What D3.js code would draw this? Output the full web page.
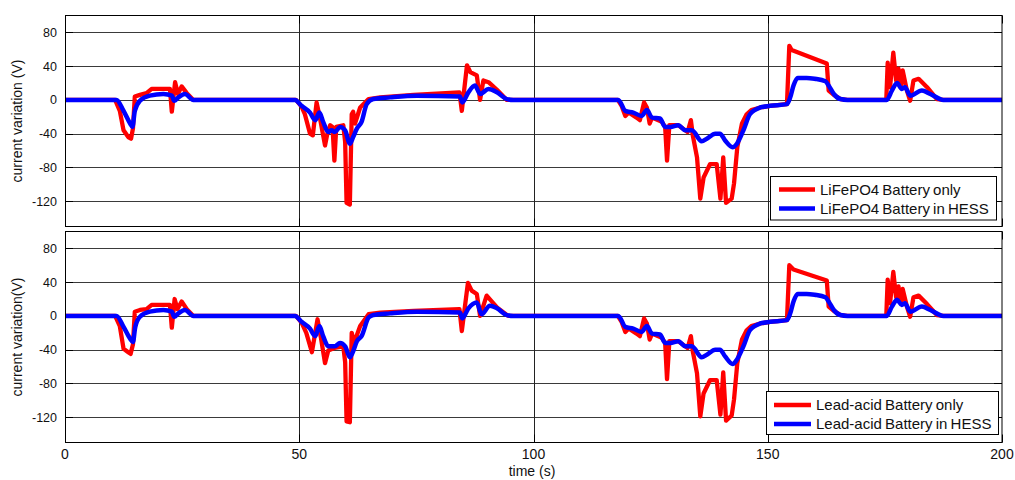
<!DOCTYPE html>
<html>
<head>
<meta charset="utf-8">
<script src="https://cdn.jsdelivr.net/npm/d3@7"></script>
<style>
  html, body { margin: 0; padding: 0; background: #fff; }
  svg { display: block; font-family: "Liberation Sans", Arial, sans-serif; }
</style>
</head>
<body>
<svg id="chart" width="1015" height="480"></svg>
<script>
// Axis ticks
const timeTicks = [0, 50, 100, 150, 200];
const currentTicks = [-120, -80, -40, 0, 40, 80];

// LiFePO4 battery, [time (s), current variation]
const liOnly = [
  [0,0],[10.7,0],[11.7,-13],[12.5,-36],[13.5,-44],[14.1,-46],[14.5,-34],[14.9,4],[16,6],[17.4,8],[18.5,13],
  [22.4,13],[22.8,-14],[23.5,21],[24.1,7],[24.9,16],[26,8],[27.4,0],
  [49.3,0],[50.5,-8],[51.2,-17],[52.3,-40],[52.9,-42],[53.7,-3],[54.4,-21],[55.5,-54],[56,-40],[56.6,-30],
  [57.1,-32],[57.5,-72],[57.9,-32],[59.4,-30],[59.8,-50],[60.1,-122],[60.8,-124],[61.2,-17],[61.5,-14],
  [61.9,-28],[63,-9],[64.8,1],[67.3,3],[74.4,6],[84.2,9],[84.7,-13],[85.8,41],[86.5,33],[87.9,29],[88.6,0],
  [89.3,23],[90.4,21],[92.2,12],[94.3,0],
  [118,0],[118.8,-7],[119.6,-19],[120.3,-15],[122,-21],[122.7,-24],[123.6,-3],[124.2,-9],[124.8,-28],
  [125.3,-21],[127.4,-26],[128.1,-32],[128.5,-72],[129,-30],[130.9,-30],[132.9,-38],[133.6,-24],[134,-42],
  [134.9,-68],[135.6,-117],[136.3,-92],[137.7,-76],[139.1,-76],[139.9,-117],[140.5,-68],[141.1,-122],
  [142.3,-117],[142.8,-99],[143.5,-56],[144.5,-28],[145.5,-17],[146.5,-12],[148.4,-9],[150.5,-7],[154.1,-5],
  [154.6,64],[155.1,59],[162.6,43],[163,11],[164.1,6],[165.5,1],[167,0],
  [175.3,0],[175.6,44],[176.1,15],[176.8,56],[177.4,23],[177.9,37],[178.4,15],[178.8,35],[179.7,11],
  [180.4,-1],[181.1,23],[182.2,25],[184,15],[186.1,1],[187.5,0],[200,0]
];
const liHess = [
  [0,0],[11,0],[12.5,-13],[13.9,-28],[14.4,-32],[14.9,-13],[16,-1],[18.1,5],[21,7],[22.8,5],[23.3,-1],
  [24.2,3],[25.6,7],[27.4,0],
  [49.1,0],[50.5,-7],[52.3,-15],[53.4,-24],[54.3,-15],[55.1,-26],[56.2,-38],[56.9,-36],[57.6,-38],[58.7,-32],
  [59.8,-36],[60.8,-52],[61.5,-44],[62.3,-34],[63.3,-26],[64.4,-5],[65.8,1],[69.4,3],[75.1,5],[84.3,4],
  [84.8,-3],[86.1,9],[87.5,17],[88.6,7],[90.4,13],[92.2,9],[94.3,1],[95.7,0],
  [118.1,0],[119.6,-13],[121.3,-15],[123.1,-19],[124.2,-12],[125.3,-21],[127,-22],[128.1,-32],[129.2,-32],
  [130.9,-30],[132.4,-36],[133.8,-36],[135.9,-49],[137,-46],[138.8,-40],[139.8,-40],[140.9,-48],[142.5,-56],
  [143.4,-52],[144.8,-36],[146.2,-17],[148.4,-9],[150.5,-7],[154.1,-5],[154.8,3],[155.5,17],[156.4,26],
  [158.3,26],[160,25],[162.3,22],[163,17],[164.1,7],[165.5,1],[167,0],
  [175.4,0],[176.5,11],[177.6,20],[178.6,13],[179.3,15],[180.4,5],[182.9,11],[184.7,7],[187.5,0],[200,0]
];

// Lead-acid battery, [time (s), current variation]
const leadOnly = [
  [0,0],[10.7,0],[11.7,-12],[12.5,-39],[13.5,-43],[14,-45],[14.5,-34],[14.9,5],[16,7],[17.4,8],[18.5,13],
  [22.4,13],[22.8,-14],[23.4,20],[24,8],[24.9,17],[26,8],[27.4,0],
  [49.3,0],[50.5,-8],[51.5,-20],[52.7,-43],[53.9,-4],[54.6,-25],[55.5,-56],[56.2,-41],[57.5,-38],[59.4,-36],
  [59.8,-55],[60.1,-125],[60.8,-126],[61.2,-20],[61.7,-32],[63,-12],[64.8,2],[67.3,4],[74.4,6],[84.2,8],
  [84.7,-18],[86,39],[86.8,30],[87.9,26],[88.6,0],[90,24],[92.2,10],[94.6,0],
  [118,0],[118.8,-7],[119.6,-19],[120.3,-15],[122,-21],[122.7,-24],[123.6,-3],[124.2,-9],[124.8,-28],
  [125.3,-21],[127.4,-26],[128.1,-32],[128.5,-75],[129,-30],[130.9,-30],[132.9,-38],[133.6,-24],[134,-42],
  [134.9,-68],[135.6,-119],[136.3,-92],[137.7,-76],[139.1,-76],[139.9,-117],[140.5,-67],[141.1,-124],
  [142.3,-118],[142.8,-99],[143.5,-56],[144.5,-28],[145.5,-17],[146.5,-12],[148.4,-9],[150.5,-7],[154.1,-5],
  [154.6,60],[155.5,55],[162.6,42],[163,11],[164.1,6],[165.5,1],[167,0],
  [175.3,0],[175.6,43],[176.1,15],[176.8,52],[177.4,22],[177.9,35],[178.4,15],[178.8,32],[179.7,11],
  [180.4,-1],[181.1,22],[182.2,24],[184,14],[186.1,1],[187.5,0],[200,0]
];
const leadHess = [
  [0,0],[11,0],[12.5,-13],[13.9,-27],[14.5,-31],[15,-13],[16,-1],[18.1,5],[21,7],[22.8,5],[23.3,-1],
  [24.2,3],[25.6,7],[27.4,0],
  [49.1,0],[50.5,-7],[52.3,-15],[53.4,-24],[54.3,-12],[55.1,-24],[56.2,-36],[57.6,-36],[58.7,-32],
  [59.8,-36],[60.8,-49],[61.5,-42],[62.3,-30],[63.3,-24],[64.8,-2],[65.8,1],[69.4,3],[75.1,5],[84.3,4],
  [84.8,-3],[86.1,9],[87.9,16],[88.9,2],[90.7,12],[92.2,9],[94.3,1],[95.7,0],
  [118.1,0],[119.6,-13],[121.3,-15],[123.1,-19],[124.2,-12],[125.3,-21],[127,-22],[128.1,-32],[129.2,-32],
  [130.9,-30],[132.4,-36],[133.8,-36],[135.9,-49],[137,-46],[138.8,-40],[139.8,-40],[140.9,-48],[142.5,-57],
  [143.4,-52],[144.8,-36],[146.2,-17],[148.4,-9],[150.5,-7],[154.1,-5],[154.8,3],[155.5,17],[156.4,26],
  [158.3,26],[160,25],[162.3,22],[163,17],[164.1,7],[165.5,1],[167,0],
  [175.4,0],[176.5,11],[177.6,19],[178.6,13],[179.3,15],[180.4,5],[182.9,11],[184.7,7],[187.5,0],[200,0]
];

const topLegend = ["LiFePO4 Battery only", "LiFePO4 Battery in HESS"];
const bottomLegend = ["Lead-acid Battery only", "Lead-acid Battery in HESS"];
const yTitles = ["current variation (V)", "current variation(V)"];

const svg = d3.select("#chart");
const left = 65, right = 1002;
const x = d3.scaleLinear().domain([0, 200]).range([left, right]);

const panels = [
  { top: 15.5, bottom: 226.5, only: liOnly, hess: liHess, legend: topLegend, title: yTitles[0],
    box: { x: 770.5, y: 176.5, w: 226, h: 43.5 }, lineX: [779, 815], textX: 820, rows: [189.5, 208.5] },
  { top: 231.5, bottom: 442.5, only: leadOnly, hess: leadHess, legend: bottomLegend, title: yTitles[1],
    box: { x: 766.5, y: 391.5, w: 232, h: 43 }, lineX: [774, 811], textX: 816, rows: [405, 424] }
];

panels.forEach((p, i) => {
  const y = d3.scaleLinear().domain([-150, 100]).range([p.bottom, p.top]);
  const g = svg.append("g");

  // horizontal grid
  g.selectAll(".hg").data(currentTicks).enter().append("line")
    .attr("x1", left).attr("x2", right)
    .attr("y1", d => Math.round(y(d)) + 0.5).attr("y2", d => Math.round(y(d)) + 0.5)
    .attr("stroke", "#3a3a3a").attr("stroke-width", 1);
  // vertical grid
  g.selectAll(".vg").data(timeTicks.slice(1, -1)).enter().append("line")
    .attr("x1", d => Math.round(x(d)) + 0.5).attr("x2", d => Math.round(x(d)) + 0.5)
    .attr("y1", p.top).attr("y2", p.bottom)
    .attr("stroke", "#222").attr("stroke-width", 1);

  // inner tick marks on all four sides
  const tl = 8;
  currentTicks.forEach(v => {
    const yy = Math.round(y(v)) + 0.5;
    g.append("line").attr("x1", left).attr("x2", left + tl).attr("y1", yy).attr("y2", yy).attr("stroke", "#000");
    g.append("line").attr("x1", right - tl).attr("x2", right).attr("y1", yy).attr("y2", yy).attr("stroke", "#000");
  });
  timeTicks.forEach(t => {
    const xx = Math.round(x(t)) + 0.5;
    g.append("line").attr("x1", xx).attr("x2", xx).attr("y1", p.top).attr("y2", p.top + tl).attr("stroke", "#000");
    g.append("line").attr("x1", xx).attr("x2", xx).attr("y1", p.bottom - tl).attr("y2", p.bottom).attr("stroke", "#000");
  });

  // y tick labels
  g.selectAll(".yl").data(currentTicks).enter().append("text")
    .attr("x", 57).attr("y", d => y(d)).attr("dy", "0.36em")
    .attr("text-anchor", "end").attr("font-size", 12.5).attr("fill", "#111")
    .text(d => d);

  // y title
  g.append("text")
    .attr("transform", `translate(22,${(p.top + p.bottom) / 2}) rotate(-90)`)
    .attr("text-anchor", "middle").attr("font-size", 14).attr("fill", "#111")
    .text(p.title);

  // series
  const clipId = "clip" + i;
  svg.append("clipPath").attr("id", clipId).append("rect")
    .attr("x", left).attr("y", p.top).attr("width", right - left).attr("height", p.bottom - p.top);
  const line = d3.line().x(d => x(d[0])).y(d => y(d[1]));
  const smooth = d3.line().x(d => x(d[0])).y(d => y(d[1])).curve(d3.curveMonotoneX);
  g.append("path").attr("d", line(p.only)).attr("fill", "none")
    .attr("stroke", "#ff0000").attr("stroke-width", 4.3).attr("stroke-linejoin", "round")
    .attr("clip-path", `url(#${clipId})`);
  g.append("path").attr("d", smooth(p.hess)).attr("fill", "none")
    .attr("stroke", "#0000ff").attr("stroke-width", 4.5).attr("stroke-linejoin", "round")
    .attr("clip-path", `url(#${clipId})`);

  // frame
  g.append("rect").attr("x", left + 0.5).attr("y", p.top).attr("width", right - left - 0.5)
    .attr("height", p.bottom - p.top).attr("fill", "none").attr("stroke", "#000");

  // legend
  const lg = g.append("g");
  lg.append("rect").attr("x", p.box.x).attr("y", p.box.y).attr("width", p.box.w).attr("height", p.box.h)
    .attr("fill", "#fff").attr("stroke", "#000");
  [["#ff0000", p.legend[0]], ["#0000ff", p.legend[1]]].forEach((e, k) => {
    lg.append("line").attr("x1", p.lineX[0]).attr("x2", p.lineX[1])
      .attr("y1", p.rows[k]).attr("y2", p.rows[k])
      .attr("stroke", e[0]).attr("stroke-width", 4.3);
    lg.append("text").attr("x", p.textX).attr("y", p.rows[k]).attr("dy", "0.36em")
      .attr("font-size", 15).attr("fill", "#111").attr("word-spacing", -1).text(e[1]);
  });

  // x tick labels only under the lower panel
  if (i === 1) {
    g.selectAll(".xl").data(timeTicks).enter().append("text")
      .attr("x", d => x(d)).attr("y", p.bottom + 16)
      .attr("text-anchor", "middle").attr("font-size", 14).attr("fill", "#111")
      .text(d => d);
    g.append("text").attr("x", 532).attr("y", 476)
      .attr("text-anchor", "middle").attr("font-size", 14).attr("fill", "#111")
      .text("time (s)");
  }
});
</script>
</body>
</html>
